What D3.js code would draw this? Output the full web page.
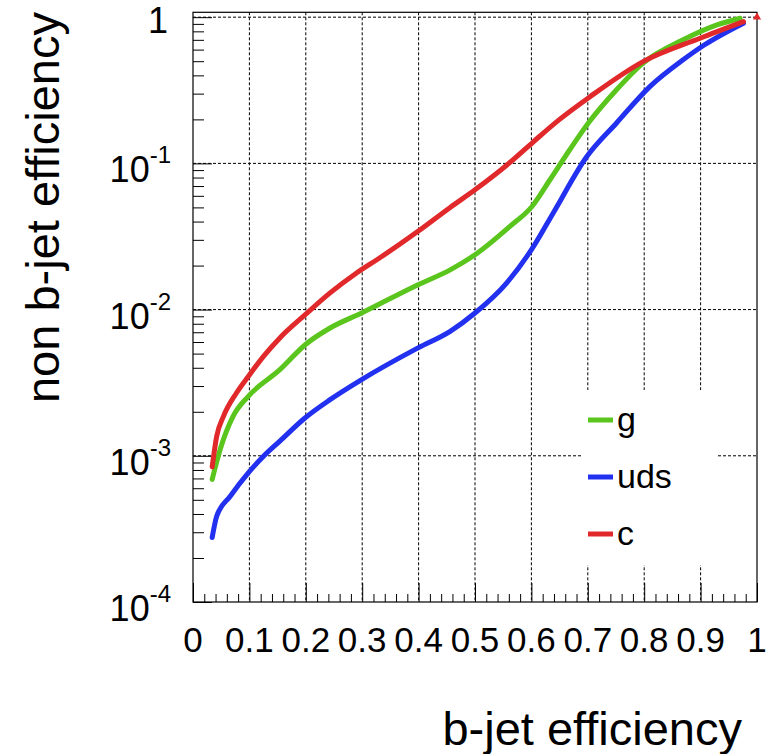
<!DOCTYPE html>
<html>
<head>
<meta charset="utf-8">
<script src="https://cdn.jsdelivr.net/npm/d3@7"></script>
<style>
  body { margin: 0; background: #ffffff; }
  text { font-family: "Liberation Sans", Arial, Helvetica, sans-serif; fill: #000; }
</style>
</head>
<body>
<div id="chart"></div>
<script>
// b-jet efficiency (x) vs non b-jet efficiency (y)
const gEff   = [0.034, 0.048, 0.071, 0.098, 0.154, 0.199, 0.243, 0.299, 0.399, 0.456, 0.5, 0.562, 0.601, 0.633, 0.668, 0.701, 0.751, 0.798, 0.869, 0.929, 0.970];
const gMis   = [6.9e-4, 1.10e-3, 1.86e-3, 2.55e-3, 3.88e-3, 5.75e-3, 7.48e-3, 9.48e-3, 0.0148, 0.0187, 0.0237, 0.0371, 0.0507, 0.0773, 0.124, 0.189, 0.319, 0.485, 0.700, 0.885, 0.984];

const udsEff = [0.034, 0.042, 0.066, 0.098, 0.125, 0.154, 0.199, 0.243, 0.299, 0.399, 0.456, 0.5, 0.556, 0.601, 0.639, 0.698, 0.751, 0.810, 0.869, 0.905, 0.976];
const udsMis = [2.76e-4, 3.86e-4, 5.29e-4, 7.64e-4, 9.93e-4, 1.26e-3, 1.82e-3, 2.42e-3, 3.32e-3, 5.47e-3, 7.10e-3, 9.48e-3, 0.0152, 0.026, 0.046, 0.111, 0.189, 0.335, 0.511, 0.64, 0.91];

const cEff   = [0.034, 0.042, 0.054, 0.077, 0.098, 0.125, 0.154, 0.199, 0.243, 0.290, 0.332, 0.399, 0.456, 0.5, 0.56, 0.603, 0.65, 0.704, 0.798, 0.899, 0.976];
const cMis   = [8.4e-4, 1.36e-3, 1.86e-3, 2.69e-3, 3.49e-3, 4.79e-3, 6.40e-3, 9.23e-3, 0.0130, 0.0178, 0.0227, 0.0343, 0.050, 0.066, 0.10, 0.14, 0.20, 0.286, 0.497, 0.718, 0.933];
const cEnd   = [[1.0, 1.0]];

const seriesNames  = ["g", "uds", "c"];
const seriesColors = ["#5ac51c", "#2230f0", "#e1292b"];
const xTickLabels  = ["0", "0.1", "0.2", "0.3", "0.4", "0.5", "0.6", "0.7", "0.8", "0.9", "1"];
const yTickExps    = [0, -1, -2, -3, -4];

const width = 769, height = 754;
const plotLeft = 193, plotRight = 757, plotTop = 12.3, plotBottom = 602;

const svg = d3.select("#chart")
  .append("svg")
  .attr("width", width)
  .attr("height", height);

const xScale = d3.scaleLinear().domain([0, 1]).range([plotLeft, plotRight]);
const yScale = d3.scaleLog().domain([1e-4, 1.08]).range([plotBottom, plotTop]);

// grid
const grid = svg.append("g")
  .attr("stroke", "#000")
  .attr("stroke-width", 1)
  .attr("stroke-dasharray", "3,2");

d3.range(1, 10).forEach(i => {
  grid.append("line")
    .attr("x1", xScale(i / 10)).attr("x2", xScale(i / 10))
    .attr("y1", plotTop).attr("y2", plotBottom);
});
yTickExps.filter(e => e > -4).forEach(e => {
  grid.append("line")
    .attr("x1", plotLeft).attr("x2", plotRight)
    .attr("y1", yScale(Math.pow(10, e))).attr("y2", yScale(Math.pow(10, e)));
});

// axes
const xAxis = d3.axisBottom(xScale)
  .tickValues(d3.range(0, 51).map(i => i / 50))
  .tickSize(0)
  .tickFormat("");
svg.append("g")
  .attr("transform", "translate(0," + plotBottom + ")")
  .call(xAxis)
  .call(g => g.select(".domain").remove())
  .selectAll(".tick line")
  .attr("stroke", "#000")
  .attr("y2", (d, i) => i % 5 === 0 ? -19 : -8);

const yMinor = [];
[-4, -3, -2, -1].forEach(e => {
  for (let k = 1; k <= 9; k++) yMinor.push(k * Math.pow(10, e));
});
yMinor.push(1);
const yAxis = d3.axisLeft(yScale)
  .tickValues(yMinor)
  .tickSize(0)
  .tickFormat("");
svg.append("g")
  .attr("transform", "translate(" + plotLeft + ",0)")
  .call(yAxis)
  .call(g => g.select(".domain").remove())
  .selectAll(".tick line")
  .attr("stroke", "#000")
  .attr("x2", (d, i) => i % 9 === 0 ? 19 : 11);

svg.append("rect")
  .attr("x", plotLeft).attr("y", plotTop)
  .attr("width", plotRight - plotLeft).attr("height", plotBottom - plotTop)
  .attr("fill", "none")
  .attr("stroke", "#000")
  .attr("stroke-width", 1.2);

// tick labels
svg.append("g").selectAll("text")
  .data(xTickLabels)
  .enter()
  .append("text")
  .attr("x", (d, i) => xScale(i / 10))
  .attr("y", 652)
  .attr("text-anchor", "middle")
  .style("font-size", "35px")
  .text(d => d);

yTickExps.forEach(e => {
  const t = svg.append("text")
    .attr("x", 171)
    .attr("text-anchor", "end")
    .style("font-size", "36px");
  if (e === 0) {
    t.attr("x", 168).attr("y", yScale(1) + 16).text("1");
  } else {
    t.attr("y", yScale(Math.pow(10, e)) + 19);
    t.append("tspan").text("10");
    t.append("tspan")
      .attr("dy", -19)
      .style("font-size", "24px")
      .text(String(e));
  }
});

// axis titles
svg.append("text")
  .attr("x", 742)
  .attr("y", 745)
  .attr("text-anchor", "end")
  .style("font-size", "47px")
  .text("b-jet efficiency");

svg.append("text")
  .attr("transform", "rotate(-90)")
  .attr("x", -12)
  .attr("y", 59)
  .attr("text-anchor", "end")
  .style("font-size", "47px")
  .text("non b-jet efficiency");

// curves
const line = d3.line()
  .x(d => xScale(d[0]))
  .y(d => yScale(d[1]))
  .curve(d3.curveMonotoneX);

const series = [
  d3.zip(gEff, gMis),
  d3.zip(udsEff, udsMis),
  d3.zip(cEff, cMis)
];

series.forEach((s, i) => {
  svg.append("path")
    .datum(s)
    .attr("fill", "none")
    .attr("stroke", seriesColors[i])
    .attr("stroke-width", 5)
    .attr("stroke-linejoin", "round")
    .attr("stroke-linecap", "round")
    .attr("d", line);
});

svg.append("g").selectAll("path")
  .data(cEnd)
  .enter()
  .append("path")
  .attr("d", d3.symbol(d3.symbolTriangle, 30))
  .attr("transform", d => "translate(" + xScale(d[0]) + "," + yScale(d[1]) + ")")
  .attr("fill", seriesColors[2]);

// legend
const legend = svg.append("g");
legend.append("rect")
  .attr("x", 583).attr("y", 390)
  .attr("width", 133).attr("height", 175)
  .attr("fill", "#ffffff");

seriesNames.forEach((name, i) => {
  const cy = 420 + i * 57;
  legend.append("line")
    .attr("x1", 588).attr("x2", 613)
    .attr("y1", cy).attr("y2", cy)
    .attr("stroke", seriesColors[i])
    .attr("stroke-width", 5);
  legend.append("text")
    .attr("x", 617)
    .attr("y", cy + 11)
    .style("font-size", "34px")
    .text(name);
});
</script>
</body>
</html>
